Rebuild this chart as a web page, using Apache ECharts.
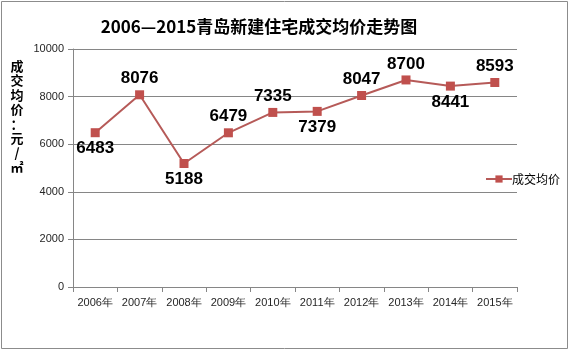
<!DOCTYPE html>
<html><head><meta charset="utf-8">
<script src="https://cdn.jsdelivr.net/npm/echarts@6/dist/echarts.min.js"></script>
<style>html,body{margin:0;padding:0;background:#fff}#c{width:569px;height:350px}</style>
</head><body><div id="c"></div>
<script>
const titleText = '2006—2015青岛新建住宅成交均价走势图';
const categories = ['2006年','2007年','2008年','2009年','2010年','2011年','2012年','2013年','2014年','2015年'];
const prices = [6483, 8076, 5188, 6479, 7335, 7379, 8047, 8700, 8441, 8593];
const labelPos = ['bottom','top','bottom','top','top','bottom','top','top','bottom','top'];
const seriesName = '成交均价';
const yAxisTitleChars = ['成','交','均','价','：','元','/','㎡'];

const cjk = '"Noto Sans CJK SC", sans-serif';
const nameEls = yAxisTitleChars.map((ch,i)=>({type:'text',x:17,y:66+i*14.5,
  style:{text:ch,fontSize:13,fontWeight:'bold',fill:'#000',align:'center',verticalAlign:'middle',fontFamily:cjk}}));

const chart = echarts.init(document.getElementById('c'), null, {renderer:'canvas'});
chart.setOption({
  animation:false,
  backgroundColor:'#fff',
  title:{text:titleText,left:254,top:13,textAlign:'center',
    textStyle:{fontSize:17,fontWeight:'bold',color:'#000',fontFamily:cjk}},
  graphic:[
    {type:'rect',shape:{x:1.5,y:1.5,width:566,height:347},style:{fill:'none',stroke:'#8c8c8c',lineWidth:1}}
  ].concat(nameEls),
  legend:{data:[seriesName],left:480,top:168,itemWidth:26,itemHeight:9,itemGap:4,
    textStyle:{fontSize:12,color:'#000',fontFamily:cjk,padding:[0,0,0,-5]}},
  grid:{left:73,right:52,top:49,bottom:63},
  xAxis:{type:'category',data:categories,boundaryGap:true,
    axisLine:{lineStyle:{color:'#868686'}},
    axisTick:{show:true,length:5,interval:0,lineStyle:{color:'#868686'}},
    axisLabel:{fontSize:11,color:'#262626',margin:10,interval:0,fontFamily:'"Liberation Sans", Arial, sans-serif'}},
  yAxis:{type:'value',min:0,max:10000,interval:2000,
    axisLine:{show:true,lineStyle:{color:'#868686'}},
    axisTick:{show:true,length:5,lineStyle:{color:'#868686'}},
    axisLabel:{fontSize:11,color:'#262626',margin:9,formatter:v=>String(v),fontFamily:'"Liberation Sans", Arial, sans-serif'},
    splitLine:{lineStyle:{color:'#868686'}}},
  series:[{name:seriesName,type:'line',
    data:prices.map((v,i)=>({value:v,label:{position:labelPos[i]}})),
    symbol:'rect',symbolSize:9,
    itemStyle:{color:'#c0504d'},
    lineStyle:{color:'#b65a58',width:2},
    label:{show:true,fontSize:17,fontWeight:'bold',color:'#000',distance:3,
      fontFamily:'"Liberation Sans", Arial, sans-serif'}}]
});
</script></body></html>
